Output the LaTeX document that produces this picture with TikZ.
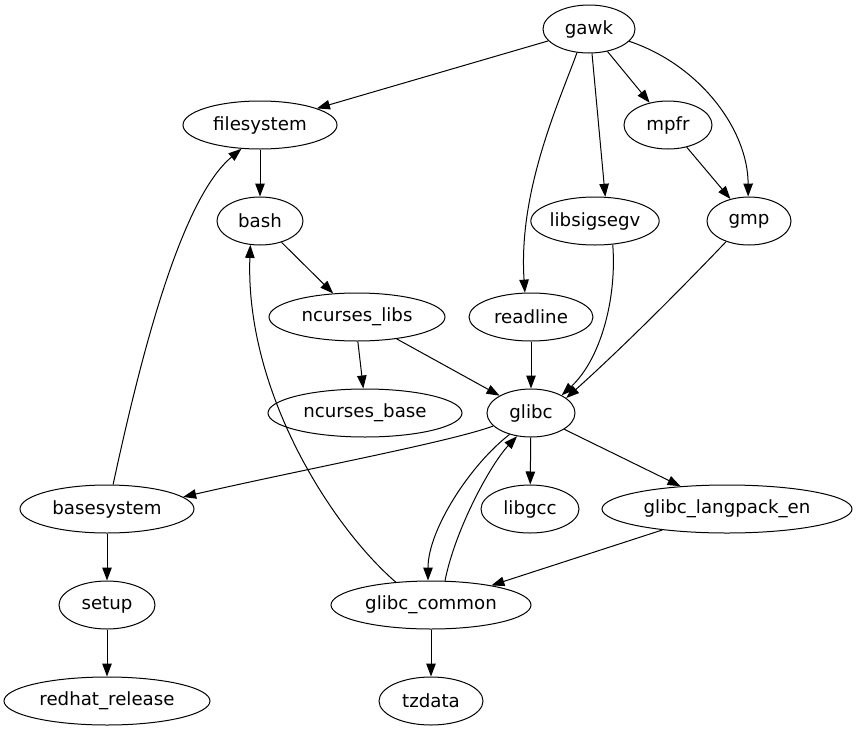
\documentclass[tikz,border=0pt]{standalone}
\usepackage{fontspec}
\setmainfont{DejaVu Sans}
\usetikzlibrary{shapes.geometric,arrows.meta}
\begin{document}
\begin{tikzpicture}[x=1pt,y=-1pt,
  pkg/.style={ellipse,draw,line width=1pt,inner sep=0pt,minimum height=48pt,font=\fontsize{18.2}{22}\selectfont},
  dep/.style={line width=1pt,-{Triangle[length=13pt,width=9.5pt]}}]
\useasboundingbox (0,0) rectangle (857,731);
\node[pkg,minimum width=92pt] (gawk) at (589,29) {gawk};
\node[pkg,minimum width=154pt] (filesystem) at (260,125) {filesystem};
\node[pkg,minimum width=88pt] (mpfr) at (668,125) {mpfr};
\node[pkg,minimum width=86pt] (bash) at (260,221) {bash};
\node[pkg,minimum width=122pt] (libsigsegv) at (595,221) {libsigsegv};
\node[pkg,minimum width=84pt] (gmp) at (749,221) {gmp};
\node[pkg,minimum width=176pt] (ncurseslibs) at (357,317) {ncurses\_libs};
\node[pkg,minimum width=124pt] (readline) at (531,317) {readline};
\node[pkg,minimum width=194pt] (ncursesbase) at (365,413) {ncurses\_base};
\node[pkg,minimum width=88pt] (glibc) at (531,413) {glibc};
\node[pkg,minimum width=174pt] (basesystem) at (107,509) {basesystem};
\node[pkg,minimum width=98pt] (libgcc) at (530,509) {libgcc};
\node[pkg,minimum width=250pt] (langpack) at (727,509) {glibc\_langpack\_en};
\node[pkg,minimum width=96pt] (setup) at (107,605) {setup};
\node[pkg,minimum width=200pt] (glibccommon) at (431,605) {glibc\_common};
\node[pkg,minimum width=206pt] (redhat) at (107,701) {redhat\_release};
\node[pkg,minimum width=104pt] (tzdata) at (431,701) {tzdata};

\draw[dep] (gawk) -- (filesystem);
\draw[dep] (gawk.-117) .. controls (560,100) and (518,190) .. (readline.104);
\draw[dep] (gawk.-83) -- (libsigsegv.67);
\draw[dep] (gawk) -- (mpfr);
\draw[dep] (gawk.-17.6) .. controls (700,65) and (748,130) .. (gmp.92);
\draw[dep] (mpfr) -- (gmp);
\draw[dep] (filesystem) -- (bash);
\draw[dep] (bash) -- (ncurseslibs);
\draw[dep] (libsigsegv.-53) .. controls (617,300) and (600,360) .. (glibc.30);
\draw[dep] (gmp.-138) .. controls (680,290) and (620,350) .. (glibc.23);
\draw[dep] (readline) -- (glibc);
\draw[dep] (ncurseslibs) -- (glibc);
\draw[dep] (ncurseslibs.-88) -- (ncursesbase.94);
\draw[dep] (glibc.-161) .. controls (450,442) and (300,470) .. (basesystem.9);
\draw[dep] (glibc) -- (libgcc);
\draw[dep] (glibc) -- (langpack);
\draw[dep] (glibc.-135) .. controls (470,465) and (428,530) .. (glibccommon.97);
\draw[dep] (glibccommon.60) .. controls (455,530) and (490,465) .. (glibc.-121);
\draw[dep] (langpack) -- (glibccommon);
\draw[dep] (glibccommon.147) .. controls (330,525) and (245,390) .. (bash.-112);
\draw[dep] (basesystem.76) .. controls (140,360) and (180,200) .. (filesystem.-128);
\draw[dep] (basesystem) -- (setup);
\draw[dep] (setup) -- (redhat);
\draw[dep] (glibccommon) -- (tzdata);
\end{tikzpicture}
\end{document}
